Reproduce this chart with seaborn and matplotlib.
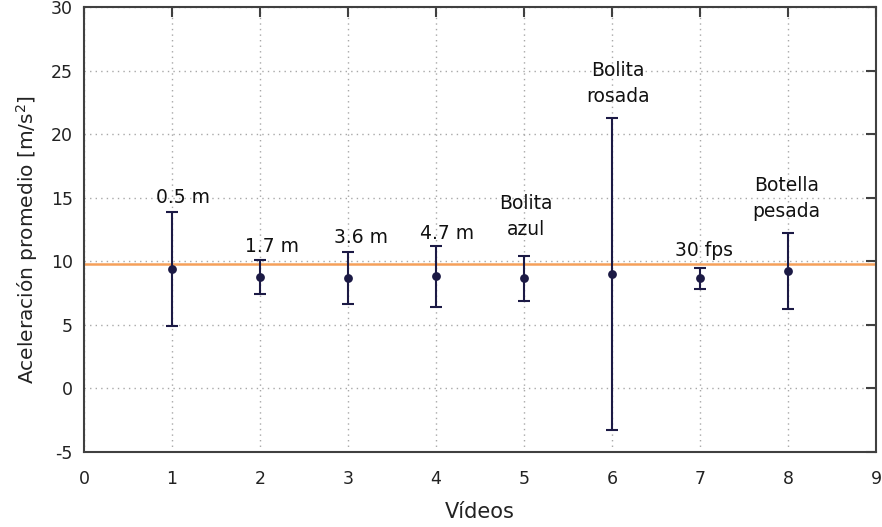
import numpy as np
import pandas as pd
import matplotlib
matplotlib.use("Agg")
import matplotlib.pyplot as plt
import seaborn as sns

# Data
videos = [1, 2, 3, 4, 5, 6, 7, 8]
accel = [9.40, 8.75, 8.70, 8.82, 8.67, 9.00, 8.65, 9.21]
err = [4.47, 1.32, 2.05, 2.38, 1.76, 12.26, 0.80, 3.00]
g_value = 9.8
labels = ["0.5 m", "1.7 m", "3.6 m", "4.7 m", "Bolita\nazul", "Bolita\nrosada", "30 fps", "Botella\npesada"]
label_x = [1.13, 2.14, 3.15, 4.13, 5.02, 6.07, 7.05, 7.98]
label_y = [15.05, 11.16, 11.85, 12.21, 13.53, 24.0, 10.84, 14.93]
xticks = list(range(0, 10))
yticks = list(range(-5, 31, 5))

sns.set_theme(style="white")
plt.rcParams['font.family'] = ['DejaVu Sans']
plt.rcParams['axes.unicode_minus'] = False

df = pd.DataFrame({"Vídeos": videos, "acc": accel, "err": err})

fig = plt.figure(figsize=(8.82, 5.27), dpi=100)
ax = fig.add_axes([0.0952, 0.1423, 0.898, 0.8444])

navy = "#1c1a45"
ax.axhline(g_value, color="#f5a05a", lw=1.8, zorder=2)
ax.errorbar(df["Vídeos"], df["acc"], yerr=df["err"], fmt="none", ecolor=navy,
            elinewidth=1.5, capsize=4, capthick=1.5, zorder=3)
sns.scatterplot(data=df, x="Vídeos", y="acc", ax=ax, color=navy, s=40,
                edgecolor=navy, linewidth=0, zorder=4)

for t, xx, yy in zip(labels, label_x, label_y):
    ax.text(xx, yy, t, ha="center", va="center", fontsize=13.5, color="#111111",
            linespacing=1.45, zorder=5)

ax.set_xlim(0, 9)
ax.set_ylim(-5, 30)
ax.set_xticks(xticks)
ax.set_yticks(yticks)
ax.grid(True, color="#a8a8a8", linestyle=(0, (1, 3)), linewidth=1.0)
ax.set_axisbelow(True)
for s in ax.spines.values():
    s.set_color("#404040")
    s.set_linewidth(1.5)
ax.tick_params(axis="both", direction="in", length=7, width=1.5, color="#404040",
               top=True, right=True, labelsize=12.5, labelcolor="#222222")
ax.tick_params(axis="x", pad=13)
ax.tick_params(axis="y", pad=8)
ax.set_xlabel("Vídeos", fontsize=15, color="#222222", labelpad=10)
ax.set_ylabel("Aceleración promedio [m/s$^2$]", fontsize=14.5, color="#222222")
ax.yaxis.set_label_coords(-0.056, 0.478)

fig.savefig("out.png", dpi=100)
